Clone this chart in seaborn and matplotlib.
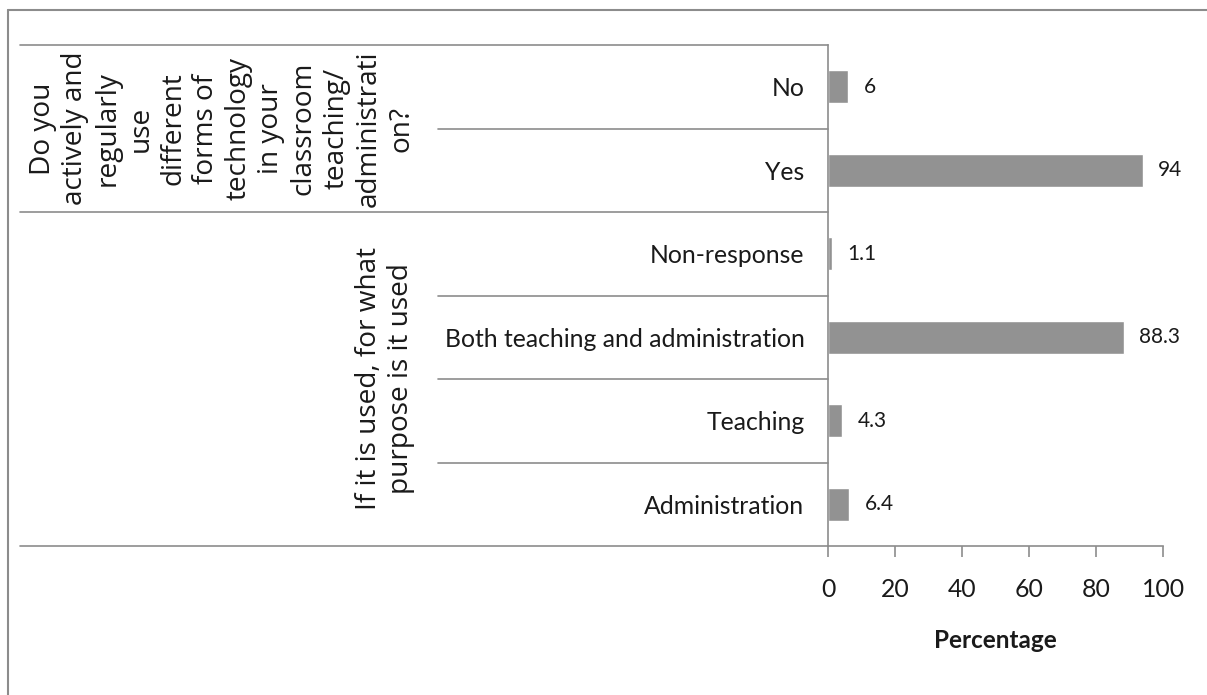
import matplotlib
matplotlib.use("Agg")
import matplotlib.pyplot as plt
import matplotlib.transforms as mtransforms
import seaborn as sns
import pandas as pd

# ---- data ----
categories = ["No", "Yes", "Non-response", "Both teaching and administration",
              "Teaching", "Administration"]
values = [6, 94, 1.1, 88.3, 4.3, 6.4]
value_labels = ["6", "94", "1.1", "88.3", "4.3", "6.4"]
group_labels = [
    "Do you\nactively and\nregularly\nuse\ndifferent\nforms of\ntechnology\nin your\nclassroom\nteaching/\nadministrati\non?",
    "If it is used, for what\npurpose is it used",
]
group_sizes = [2, 4]
x_ticks = [0, 20, 40, 60, 80, 100]
x_label = "Percentage"

sns.set_theme(style="white")
plt.rcParams["font.family"] = ["Lato", "DejaVu Sans"]
group_family = ["Open Sans", "DejaVu Sans"]
tick_fs = 17.8
txt_color = "#1a1a1a"

W, H = 1207, 695
fig = plt.figure(figsize=(W / 100, H / 100), dpi=100)
ax_left, ax_right, ax_top, ax_bot = 828, 1163, 45, 546
ax = fig.add_axes([ax_left / W, 1 - ax_bot / H, (ax_right - ax_left) / W, (ax_bot - ax_top) / H])

df = pd.DataFrame({"cat": categories, "val": values})
sns.barplot(data=df, y="cat", x="val", order=categories, orient="h",
            color="#929292", saturation=1, width=0.4, ax=ax)

ax.set_xlim(0, 100)
ax.set_ylim(5.5, -0.5)
ax.set_xticks(x_ticks)
ax.set_xticklabels([str(t) for t in x_ticks], fontsize=tick_fs, color=txt_color)
ax.set_yticks(range(len(categories)))
ax.set_yticklabels(categories, fontsize=tick_fs, color=txt_color)
ax.tick_params(axis="y", length=0, pad=17)
ax.tick_params(axis="x", length=8, width=1.2, color="#8c8c8c", pad=15, direction="out", bottom=True)
ax.set_xlabel(x_label, fontsize=17.5, fontweight="bold", labelpad=20, color=txt_color)
ax.set_ylabel("")
for s in ["top", "right"]:
    ax.spines[s].set_visible(False)
for s in ["left", "bottom"]:
    ax.spines[s].set_color("#8c8c8c")
    ax.spines[s].set_linewidth(1.2)

# value labels
for i, (v, lab) in enumerate(zip(values, value_labels)):
    ax.annotate(lab, xy=(v, i), xytext=(11, 0), textcoords="offset points",
                va="center", ha="left", fontsize=15, color=txt_color)

# separator lines (multi-level category axis)
trans = mtransforms.blended_transform_factory(fig.transFigure, ax.transData)
lc = "#8c8c8c"
x_outer = 20 / W
x_inner = 438 / W
x_axis = ax_left / W
boundaries = [-0.5]
acc = -0.5
for g in group_sizes:
    acc += g
    boundaries.append(acc)
for b in range(len(categories)):
    yb = b - 0.5
    x0 = x_outer if yb in boundaries else x_inner
    ax.plot([x0, x_axis], [yb, yb], transform=trans, color=lc, lw=1.2, clip_on=False)
ax.plot([x_outer, x_axis], [5.5, 5.5], transform=trans, color=lc, lw=1.2, clip_on=False)

# group labels
start = -0.5
gx = [222 / W, 385 / W]
for g, lab, xg in zip(group_sizes, group_labels, gx):
    yc = start + g / 2
    ax.text(xg, yc, lab, transform=trans, rotation=90, ha="center", va="center",
            multialignment="center", fontsize=20.2, color=txt_color,
            family=group_family, linespacing=1.22)
    start += g

# outer frame (top and left edges)
fig.add_artist(plt.Line2D([8 / W, 1.0], [1 - 10 / H, 1 - 10 / H], transform=fig.transFigure,
                          color="#8c8c8c", lw=1.5))
fig.add_artist(plt.Line2D([8 / W, 8 / W], [0, 1 - 10 / H], transform=fig.transFigure,
                          color="#8c8c8c", lw=1.5))

fig.savefig("out.png", dpi=100, facecolor="white")
